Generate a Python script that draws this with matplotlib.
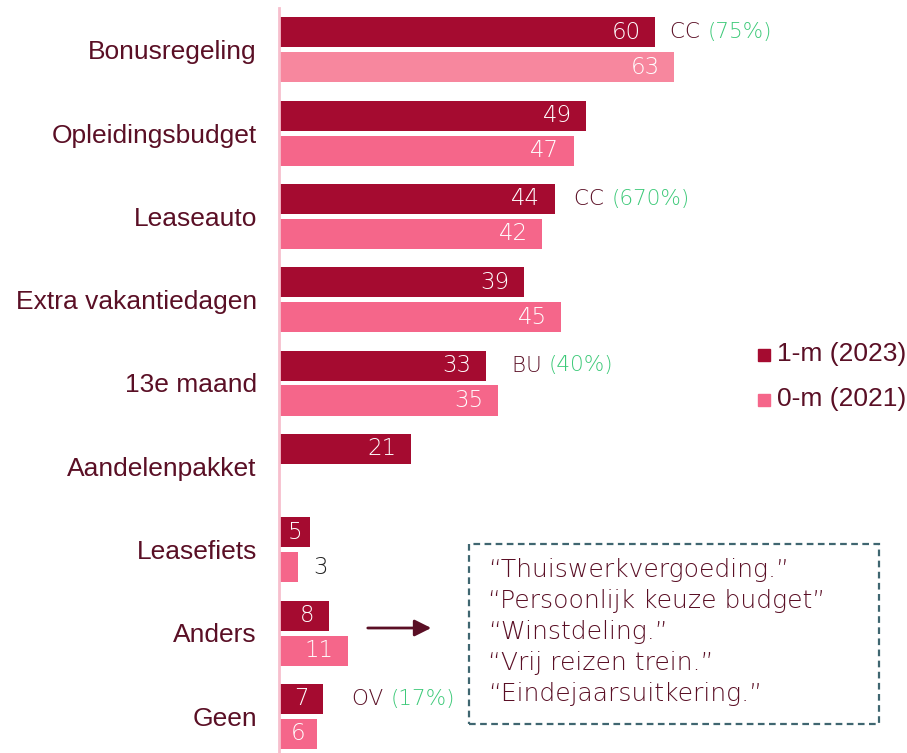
import matplotlib
matplotlib.use("Agg")
import matplotlib.pyplot as plt
from matplotlib.patches import Rectangle, FancyArrowPatch

categories = ["Bonusregeling", "Opleidingsbudget", "Leaseauto", "Extra vakantiedagen",
              "13e maand", "Aandelenpakket", "Leasefiets", "Anders", "Geen"]
values_2023 = [60, 49, 44, 39, 33, 21, 5, 8, 7]
values_2021 = [63, 47, 42, 45, 35, None, 3, 11, 6]
series_labels = ["1-m (2023)", "0-m (2021)"]
notes = {0: ("CC", "(75%)"), 2: ("CC", "(670%)"), 4: ("BU", "(40%)"), 8: ("OV", "(17%)")}
quotes = ["\u201cThuiswerkvergoeding.\u201d", "\u201cPersoonlijk keuze budget\u201d",
          "\u201cWinstdeling.\u201d", "\u201cVrij reizen trein.\u201d",
          "\u201cEindejaarsuitkering.\u201d"]

DARK = "#A50B30"
PINK = "#F5668A"
PINK_LIGHT = "#F7879E"
MAROON = "#5A0F25"
GREEN = "#3CC978"
AXIS = "#F7BFCD"
BOX = "#3F6670"

W, H = 907, 753
fig = plt.figure(figsize=(W / 100, H / 100), dpi=100)

def fx(x):
    return x / W

def fy(y):
    return 1 - y / H

ax = fig.add_axes([fx(279), fy(753), fx(906) - fx(279), fy(8) - fy(753)])
ax.set_xlim(0, 100)
ax.set_ylim(8.44, -0.5)
for s in ["top", "right", "bottom"]:
    ax.spines[s].set_visible(False)
ax.spines["left"].set_color(AXIS)
ax.spines["left"].set_linewidth(2)
ax.set_xticks([])
ax.set_yticks(range(len(categories)))
ax.set_yticklabels(categories, fontsize=19, color=MAROON, family="Liberation Sans")
ax.tick_params(axis="y", length=0, pad=16)

off = 0.21
h = 0.36
px_per_unit = 627 / 100
vfont = dict(family="DejaVu Sans", fontweight="light", fontsize=16.5)
nfont = dict(family="DejaVu Sans", fontweight="light", fontsize=15.5)
note_gap = {0: 11, 2: 14, 4: 19, 8: 21}

for i, (a, b) in enumerate(zip(values_2023, values_2021)):
    ax.barh(i - off, a, height=h, color=DARK, edgecolor="none")
    if b is not None:
        ax.barh(i + off, b, height=h, color=PINK_LIGHT if i == 0 else PINK, edgecolor="none")
    for v, y in ((a, i - off), (b, i + off)):
        if v is None:
            continue
        w = v * px_per_unit
        if w < 25:
            ax.annotate(str(v), (v, y), xytext=(11, 0), textcoords="offset points",
                        ha="left", va="center", color="#222222", **vfont)
        elif w < 40:
            ax.text(v / 2, y, str(v), ha="center", va="center", color="white", **vfont)
        else:
            ax.annotate(str(v), (v, y), xytext=(-10.5, 0), textcoords="offset points",
                        ha="right", va="center", color="white", **vfont)
    if i in notes:
        code, pct = notes[i]
        t = ax.annotate(code + " ", (a, i - off), xytext=(note_gap[i], 0),
                        textcoords="offset points",
                        ha="left", va="center", color=MAROON, **nfont)
        fig.canvas.draw()
        ax.annotate(pct, xy=(1, 0.5), xycoords=t, ha="left", va="center",
                    color=GREEN, **nfont)

# legend
for k, (lab, col) in enumerate(zip(series_labels, [DARK, PINK])):
    yc = 354 + k * 45
    fig.patches.append(Rectangle((fx(758), fy(yc + 7)), fx(12), 12 / H,
                                 transform=fig.transFigure, color=col))
    fig.text(fx(777), fy(yc), lab, fontsize=19, color=MAROON, family="Liberation Sans",
             ha="left", va="center")

# arrow
arr = FancyArrowPatch((fx(365), fy(628)), (fx(434), fy(628)), transform=fig.transFigure,
                      arrowstyle="-|>,head_length=10,head_width=5", color=MAROON,
                      lw=2, mutation_scale=1)
fig.patches.append(arr)

# dashed box
fig.patches.append(Rectangle((fx(469), fy(724)), fx(879) - fx(469), (724 - 544) / H,
                             transform=fig.transFigure, fill=False, edgecolor=BOX,
                             lw=1.6, ls=(0, (3, 2))))
for k, q in enumerate(quotes):
    fig.text(fx(488), fy(570 + k * 31), q, fontsize=18, color=MAROON, family="DejaVu Sans",
             fontweight="light", ha="left", va="center")

fig.savefig("out.png", dpi=100)
